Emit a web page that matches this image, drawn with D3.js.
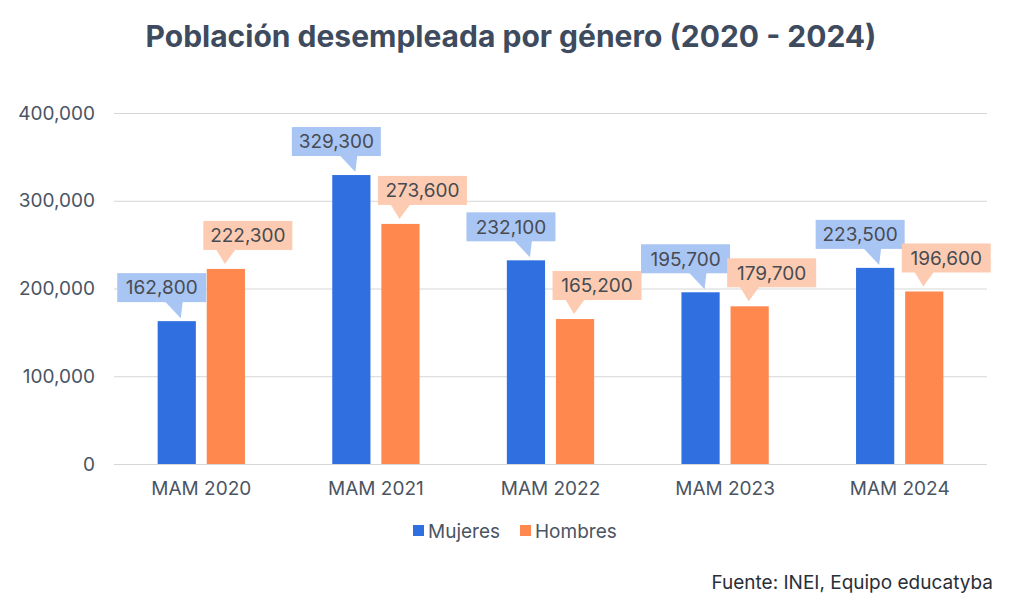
<!DOCTYPE html>
<html>
<head>
<meta charset="utf-8">
<script src="https://cdn.jsdelivr.net/npm/d3@7"></script>
<style>
  html, body { margin: 0; padding: 0; background: #fff; }
  svg { display: block; font-family: Inter, "Noto Sans", sans-serif; }
</style>
</head>
<body>
<svg id="chart" width="1024" height="608"></svg>
<script>
const categories = ["MAM 2020", "MAM 2021", "MAM 2022", "MAM 2023", "MAM 2024"];
const seriesNames = ["Mujeres", "Hombres"];
const mujeres = [162800, 329300, 232100, 195700, 223500];
const hombres = [222300, 273600, 165200, 179700, 196600];
const yTicks = [0, 100000, 200000, 300000, 400000];
const titleText = "Población desempleada por género (2020 - 2024)";
const sourceText = "Fuente: INEI, Equipo educatyba";

const colors = { Mujeres: "#2f6fe0", Hombres: "#fe884d" };
const calloutColors = { Mujeres: "#a9c5f3", Hombres: "#fdcbb1" };

const svg = d3.select("#chart");
const fmt = d3.format(",");

const x0 = d3.scaleBand().domain(categories).range([114, 987]).paddingInner(0.5).paddingOuter(0.25);
const x1 = d3.scaleBand().domain(seriesNames).range([0, x0.bandwidth()]).paddingInner(0.222);
const y = d3.scaleLinear().domain([0, 400000]).range([464, 113]);

// Title
svg.append("text")
  .attr("x", 511).attr("y", 47)
  .attr("text-anchor", "middle")
  .attr("font-size", 30).attr("font-weight", 700)
  .attr("fill", "#3e4b5e")
  .text(titleText);

// Grid + y axis
const yAxis = d3.axisLeft(y).tickValues(yTicks).tickFormat(fmt).tickSize(-(987 - 114)).tickPadding(19);
const gy = svg.append("g").attr("transform", "translate(114,0)").call(yAxis);
gy.select(".domain").remove();
gy.selectAll(".tick line").attr("stroke", "#d6d6d6").attr("stroke-width", 1);
gy.selectAll(".tick text").attr("font-size", 19).attr("fill", "#4a5463").attr("font-family", "Inter, sans-serif");

// x axis labels
const xAxis = d3.axisBottom(x0).tickSize(0).tickPadding(18);
const gx = svg.append("g").attr("transform", "translate(0,464)").call(xAxis);
gx.select(".domain").remove();
gx.selectAll(".tick text").attr("font-size", 19).attr("fill", "#4a5463").attr("font-family", "Inter, sans-serif");

// Data rows
const rows = categories.map((c, i) => ({ cat: c, Mujeres: mujeres[i], Hombres: hombres[i] }));

// Bars
const groups = svg.append("g").selectAll("g").data(rows).join("g")
  .attr("transform", d => `translate(${x0(d.cat)},0)`);
groups.selectAll("rect").data(d => seriesNames.map(s => ({ s, v: d[s] }))).join("rect")
  .attr("x", d => x1(d.s))
  .attr("width", x1.bandwidth())
  .attr("y", d => y(d.v))
  .attr("height", d => y(0) - y(d.v))
  .attr("fill", d => colors[d.s]);

// Callouts
const boxW = 89, boxH = 29, gap = 19;
const labelLayer = svg.append("g");
rows.forEach(r => {
  seriesNames.forEach(s => {
    const bx = x0(r.cat) + x1(s);
    const cx = bx + x1.bandwidth() / 2;
    const top = y(r[s]);
    const bottom = top - gap;
    let boxCx, tipX, tri;
    if (s === "Mujeres") {
      boxCx = cx - 15;
      tipX = cx + 4;
      tri = [[tipX - 16, bottom - 1], [tipX + 2, bottom - 1], [tipX, top - 3]];
    } else {
      boxCx = cx + 22;
      tipX = cx - 1;
      tri = [[tipX - 9, bottom - 1], [tipX + 11, bottom - 1], [tipX, top - 5]];
    }
    const g = labelLayer.append("g");
    g.append("rect")
      .attr("x", boxCx - boxW / 2).attr("y", bottom - boxH)
      .attr("width", boxW).attr("height", boxH)
      .attr("fill", calloutColors[s]);
    g.append("path")
      .attr("d", d3.line()(tri) + "Z")
      .attr("fill", calloutColors[s]);
    g.append("text")
      .attr("x", boxCx).attr("y", bottom - boxH / 2)
      .attr("dy", "0.36em")
      .attr("text-anchor", "middle")
      .attr("font-size", 19)
      .attr("fill", "#474b52")
      .text(fmt(r[s]));
  });
});

// Legend
const legend = svg.append("g");
const legendItems = [{ s: "Mujeres", x: 413 }, { s: "Hombres", x: 520 }];
legendItems.forEach(it => {
  legend.append("rect").attr("x", it.x).attr("y", 525).attr("width", 11).attr("height", 11).attr("fill", colors[it.s]);
  legend.append("text").attr("x", it.x + 15).attr("y", 531).attr("dy", "0.35em")
    .attr("font-size", 19).attr("fill", "#4a5463").text(it.s);
});

// Source
svg.append("text")
  .attr("x", 993).attr("y", 582).attr("dy", "0.35em")
  .attr("text-anchor", "end")
  .attr("font-size", 19).attr("fill", "#2a2f36")
  .text(sourceText);
</script>
</body>
</html>
